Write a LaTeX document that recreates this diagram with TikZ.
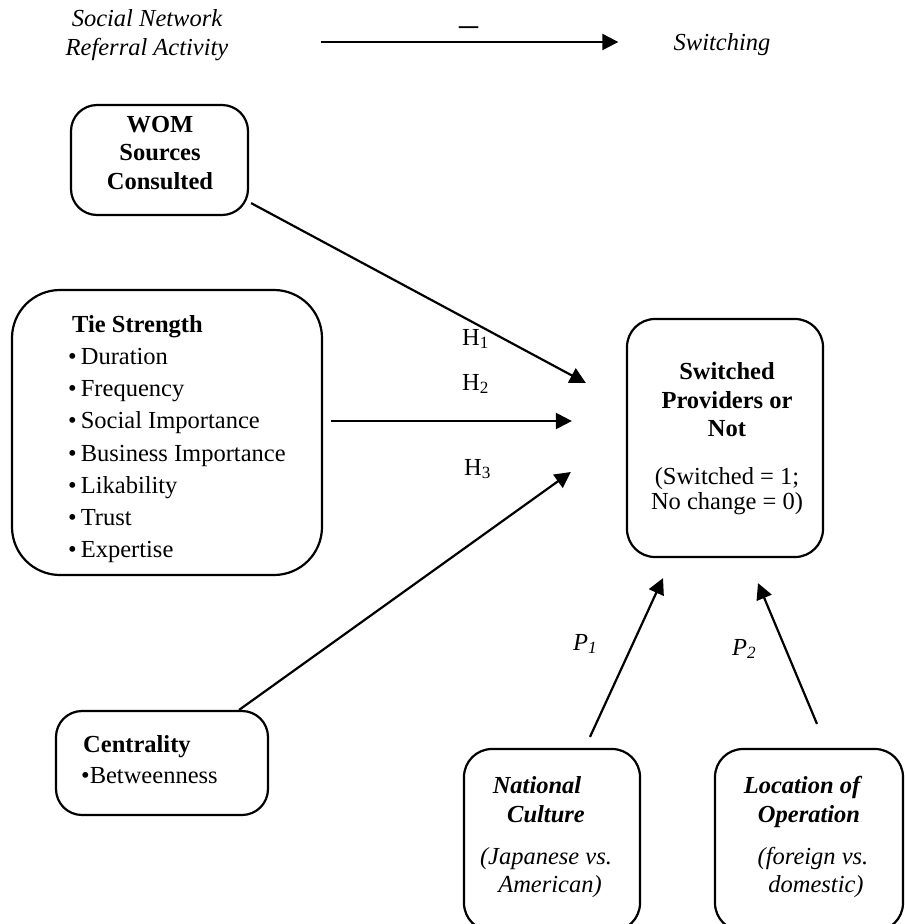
\documentclass[tikz,border=0pt]{standalone}
\usepackage{fontspec}
\setmainfont{Liberation Serif}
\usetikzlibrary{arrows.meta}

\tikzset{
  box/.style={draw, line width=2.2pt, rounded corners=#1, inner sep=0pt},
  box/.default=26pt,
  link/.style={-{Triangle[length=16pt,width=16pt]}, line width=2.2pt},
  hyp/.style={anchor=base west, inner sep=0pt},
}

\begin{document}
\fontsize{24.5}{29}\selectfont
\begin{tikzpicture}[x=1pt, y=-1pt, line join=round]
  \clip (0,0) rectangle (905,924);
  % top relation
  \node[font=\itshape, align=center] (referral) at (147,35) {Social Network\\Referral Activity};
  \node[font=\itshape, anchor=base] (switching) at (722,50) {Switching};
  \coordinate (topstart) at ([shift={(84,7)}]referral.east);
  \draw[link] (topstart) -- ([xshift=-47pt]switching.west |- topstart)
    node[midway, above=4.5pt, inner sep=0pt, font=\fontsize{38}{38}\selectfont] (minus) {\textendash};

  % boxes
  \node[box, minimum width=177pt, minimum height=110pt] (wom) at (159.5,160) {};
  \node[box=48pt, minimum width=310pt, minimum height=285pt] (tie) at (167,432.5) {};
  \node[box, minimum width=212pt, minimum height=104pt] (cent) at (162,763) {};
  \node[box=28pt, minimum width=196pt, minimum height=238pt] (sw) at (725,438) {};
  \node[box=28pt, minimum width=176pt, minimum height=182pt] (nat) at (552,840) {};
  \node[box=28pt, minimum width=188pt, minimum height=182pt] (loc) at (809,840) {};

  % box texts
  \node[font=\bfseries\fontsize{24.5}{28.5}\selectfont, align=center] (womtext) at (160,153) {WOM\\Sources\\Consulted};
  \node[anchor=north west, align=left, inner sep=0pt, font=\fontsize{24.5}{32.2}\selectfont] (tietext) at (68,315)
    {\hspace*{4pt}\textbf{Tie Strength}\\\textbullet\,Duration\\\textbullet\,Frequency\\\textbullet\,Social Importance\\
     \textbullet\,Business Importance\\\textbullet\,Likability\\\textbullet\,Trust\\\textbullet\,Expertise};
  \node[anchor=north west, align=left, inner sep=0pt, font=\fontsize{24.5}{31}\selectfont] (centtext) at (81,735)
    {\hspace*{2pt}\textbf{Centrality}\\\textbullet Betweenness};
  \node[align=center, font=\fontsize{24.5}{28.5}\selectfont] (swtext) at (727,439)
    {\textbf{Switched}\\\textbf{Providers or}\\\textbf{Not}\\[19.5pt](Switched = 1;\\[-3.5pt]No change = 0)};
  \node[align=center, font=\itshape] (nattext) at (546,837)
    {\textbf{National}\hspace*{18pt}\\\textbf{Culture}\hspace*{18pt}\\[13pt](Japanese vs.\\[-1pt]\hspace*{8pt}American)};
  \node[align=center, font=\itshape] (loctext) at (809,837)
    {\textbf{Location of}\hspace*{14pt}\\\textbf{Operation}\hspace*{14pt}\\[13pt]\hspace*{8pt}(foreign vs.\\[-1pt]\hspace*{14pt}domestic)};

  % hypotheses
  \draw[link] ([shift={(2,-13)}]wom.south east) -- ([shift={(-40,-55)}]sw.west);
  \draw[link] ([shift={(8,-11.5)}]tie.east) -- ([shift={(-54,-17)}]sw.west);
  \draw[link] ([xshift=-30pt]cent.north east) -- ([shift={(-55,34)}]sw.west);
  \draw[link] ([shift={(38,-11)}]nat.north) -- ([shift={(-62,20)}]sw.south);
  \draw[link] ([shift={(8,-24)}]loc.north) -- ([shift={(33,25)}]sw.south);

  \node[hyp] (h1) at (462,345) {H\textsubscript{1}};
  \node[hyp] (h2) at (462,390) {H\textsubscript{2}};
  \node[hyp] (h3) at (464,475) {H\textsubscript{3}};
  \node[hyp, font=\itshape] (p1) at (573,650) {P\textsubscript{1}};
  \node[hyp, font=\itshape] (p2) at (732,655) {P\textsubscript{2}};
\end{tikzpicture}
\end{document}
